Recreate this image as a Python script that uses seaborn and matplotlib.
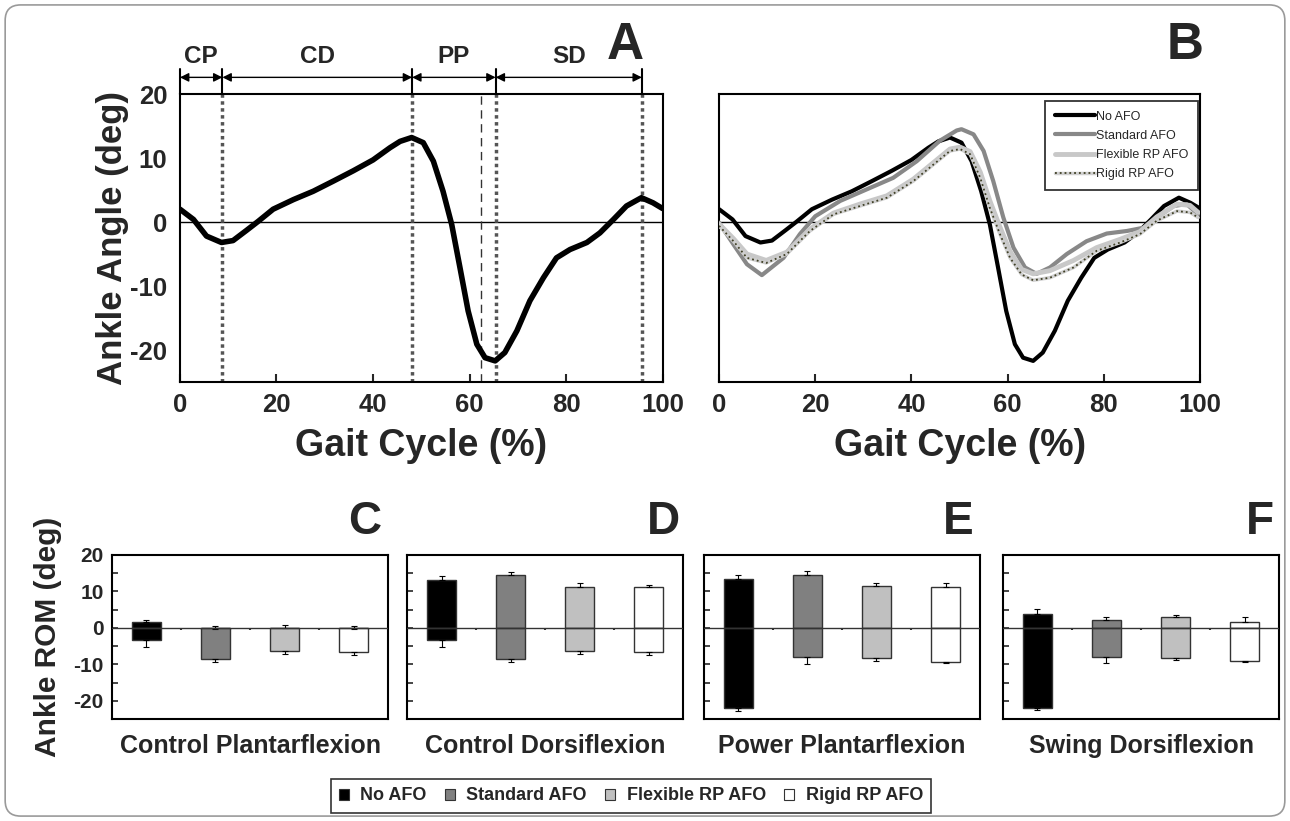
import numpy as np
import pandas as pd
import matplotlib
matplotlib.use("Agg")
import matplotlib.pyplot as plt
import seaborn as sns
from matplotlib.lines import Line2D
from matplotlib.patches import Patch, FancyBboxPatch

# --- Data: ankle angle over the gait cycle ---
no_afo_x = [0, 2.8, 5.5, 8.6, 11, 13.8, 16.2, 19.3, 23.5, 27.6, 31.8, 35.9, 40, 43.5,
            45.6, 48, 50.4, 52.5, 54.5, 56.3, 58, 59.7, 61.5, 63.2, 65.3, 67.3, 69.8,
            72.5, 75.3, 78, 80.8, 84.3, 87, 89.8, 92.5, 95.6, 98, 100]
no_afo_y = [2.0, 0.4, -2.2, -3.2, -2.9, -1.3, 0.1, 2.0, 3.5, 4.8, 6.4, 8.0, 9.7, 11.6,
            12.6, 13.2, 12.4, 9.5, 4.8, -0.4, -7.1, -13.9, -19.1, -21.2, -21.7, -20.4, -17.0,
            -12.3, -8.7, -5.6, -4.3, -3.2, -1.7, 0.4, 2.5, 3.8, 3.0, 2.1]

std_afo_x = [0, 3, 5.8, 8.9, 13.4, 16.8, 20, 25.2, 30.7, 36.2, 41.1, 45.9, 49.4, 50.4,
             52.9, 55, 57, 59.1, 61.2, 63.6, 66, 68.8, 72.3, 76.4, 80.6, 84.8, 88.2, 91,
             94.5, 97.2, 99.6]
std_afo_y = [-0.1, -3.5, -6.6, -8.3, -5.6, -1.9, 0.9, 3.3, 5.1, 6.9, 9.5, 12.7, 14.3, 14.5,
             13.7, 11.1, 6.4, 0.7, -4.0, -7.1, -8.1, -7.1, -5.0, -3.0, -1.8, -1.4, -0.9, 0.7,
             2.5, 2.8, 1.2]

rp_x = [0, 3, 5.8, 9.8, 14.1, 18.9, 23.8, 29.3, 34.9, 40.4, 44.6, 48, 50.1, 52.2, 54.3,
        56.3, 58.4, 60.5, 62.9, 65.3, 68.8, 73.7, 78.5, 83.4, 87.5, 91, 95.2, 97.9, 99.6]
flex_rp_y = [-0.3, -2.6, -5.0, -6.0, -4.7, -1.1, 1.4, 2.8, 4.1, 6.7, 9.3, 11.4, 11.7, 11.0, 7.8,
             3.3, -0.8, -4.6, -7.4, -8.1, -7.6, -6.0, -4.0, -2.7, -1.5, 0.8, 2.8, 2.6, 1.5]
rigid_rp_y = [-0.6, -3.0, -5.6, -6.4, -5.0, -1.4, 1.2, 2.5, 3.8, 6.4, 9.0, 11.1, 11.4, 10.6, 6.9,
              2.2, -1.9, -5.6, -8.2, -9.1, -8.7, -7.1, -4.5, -3.2, -1.9, 0.2, 1.7, 1.5, 0.7]

# Gait phase boundaries (% gait cycle) and labels
phase_bounds = [0, 8.8, 48.1, 65.4, 95.7]
phase_labels = ["CP", "CD", "PP", "SD"]
toe_off = 62.3

# --- Data: ankle ROM per phase (bar spans min..max, error bar outward) ---
conditions = ["No AFO", "Standard AFO", "Flexible RP AFO", "Rigid RP AFO"]
phases = ["Control Plantarflexion", "Control Dorsiflexion", "Power Plantarflexion", "Swing Dorsiflexion"]
rom_max = {
    "Control Plantarflexion": [1.6, -0.2, 0.1, -0.4],
    "Control Dorsiflexion": [13.1, 14.4, 11.3, 11.1],
    "Power Plantarflexion": [13.4, 14.6, 11.6, 11.3],
    "Swing Dorsiflexion": [3.9, 2.3, 3.1, 1.7],
}
rom_max_err = {
    "Control Plantarflexion": [2.2, 0.5, 0.8, 0.4],
    "Control Dorsiflexion": [14.3, 15.4, 12.2, 11.9],
    "Power Plantarflexion": [14.5, 15.6, 12.4, 12.3],
    "Swing Dorsiflexion": [5.2, 3.0, 3.5, 2.9],
}
rom_min = {
    "Control Plantarflexion": [-3.2, -8.5, -6.4, -6.7],
    "Control Dorsiflexion": [-3.3, -8.5, -6.4, -6.7],
    "Power Plantarflexion": [-22.0, -8.0, -8.3, -9.4],
    "Swing Dorsiflexion": [-21.9, -7.9, -8.2, -9.0],
}
rom_min_err = {
    "Control Plantarflexion": [-5.2, -9.4, -7.1, -7.3],
    "Control Dorsiflexion": [-5.2, -9.4, -7.1, -7.3],
    "Power Plantarflexion": [-22.8, -9.8, -9.0, -9.6],
    "Swing Dorsiflexion": [-22.6, -9.5, -8.9, -9.3],
}

bar_colors = ["#000000", "#808080", "#c0c0c0", "#ffffff"]

# --- Style ---
sns.set_style("ticks")
plt.rcParams["font.family"] = ["Liberation Sans", "DejaVu Sans"]
plt.rcParams["font.weight"] = "bold"
plt.rcParams["axes.unicode_minus"] = False

fig = plt.figure(figsize=(12.9, 8.21), dpi=100)

# outer rounded frame
fig.patches.append(FancyBboxPatch((0.004, 0.006), 0.992, 0.988,
                                  boxstyle="round,pad=0,rounding_size=0.012",
                                  mutation_aspect=1290 / 821, transform=fig.transFigure,
                                  facecolor="none", edgecolor="#9a9a9a", linewidth=1.2))


def style_curve_axes(ax):
    ax.set_xlim(0, 100)
    ax.set_ylim(-25, 20)
    ax.set_xticks(range(0, 101, 20))
    ax.set_yticks([-20, -10, 0, 10, 20])
    ax.tick_params(axis="x", direction="in", length=6, width=1.5, pad=8, labelsize=18.5)
    ax.tick_params(axis="y", length=0, pad=9, labelsize=18.5)
    for lab in ax.get_xticklabels() + ax.get_yticklabels():
        lab.set_fontweight("bold")
    for sp in ax.spines.values():
        sp.set_visible(True)
        sp.set_linewidth(1.5)
        sp.set_color("black")
    ax.axhline(0, color="black", lw=1, zorder=1)
    ax.set_xlabel("Gait Cycle (%)", fontsize=27, fontweight="bold", labelpad=8)


# --- Panel A: No AFO with phase markers ---
axA = fig.add_axes([0.1395, 0.5347, 0.3742, 0.3508])
style_curve_axes(axA)
for b in phase_bounds[1:]:
    axA.axvline(b, color="#555555", lw=2.5, ls=(0, (1, 1)), zorder=2)
axA.axvline(toe_off, color="#333333", lw=1, ls=(0, (6, 4)), zorder=2)
sns.lineplot(x=no_afo_x, y=no_afo_y, ax=axA, color="black", lw=4, zorder=3)
axA.set_ylabel("Ankle Angle (deg)", fontsize=25, fontweight="bold", labelpad=1)

# phase arrows above the panel
for b in phase_bounds:
    axA.plot([b, b], [20, 23.9], color="black", lw=1.5, clip_on=False)
for i, lab in enumerate(phase_labels):
    x0, x1 = phase_bounds[i], phase_bounds[i + 1]
    axA.annotate("", xy=(x1, 22.6), xytext=(x0, 22.6), annotation_clip=False,
                 arrowprops=dict(arrowstyle="<|-|>", color="black", lw=1,
                                 shrinkA=0, shrinkB=0, mutation_scale=13))
    axA.text((x0 + x1) / 2, 25.9, lab, ha="center", va="center",
             fontsize=17.5, fontweight="bold")

# --- Panel B: all conditions ---
axB = fig.add_axes([0.5574, 0.5347, 0.3729, 0.3508])
style_curve_axes(axB)
axB.set_yticklabels([])
sns.lineplot(x=no_afo_x, y=no_afo_y, ax=axB, color="black", lw=3, zorder=3)
sns.lineplot(x=std_afo_x, y=std_afo_y, ax=axB, color="#888888", lw=3, zorder=4)
sns.lineplot(x=rp_x, y=flex_rp_y, ax=axB, color="#c8c8c8", lw=3.5, zorder=4)
sns.lineplot(x=rp_x, y=rigid_rp_y, ax=axB, color="#d0d0d0", lw=2.5, zorder=5)
sns.lineplot(x=rp_x, y=rigid_rp_y, ax=axB, color="#3f3f25", lw=1.3, ls=":", zorder=6)

leg_handles = [
    Line2D([], [], color="black", lw=3),
    Line2D([], [], color="#888888", lw=3),
    Line2D([], [], color="#c8c8c8", lw=3.5),
    (Line2D([], [], color="#d0d0d0", lw=2.5), Line2D([], [], color="#3f3f25", lw=1.3, ls=":")),
]
legB = axB.legend(leg_handles, conditions, loc="upper right", bbox_to_anchor=(0.995, 0.975),
                  fontsize=9, frameon=True, fancybox=False, handlelength=3.2,
                  handletextpad=0.1, borderpad=0.75, labelspacing=0.58, borderaxespad=0)
legB.get_frame().set_edgecolor("black")
legB.get_frame().set_linewidth(1.3)
for t in legB.get_texts():
    t.set_fontweight("normal")

# --- Panels C-F: ROM bars ---
bar_lefts = [0.0868, 0.3155, 0.5457, 0.7775]
for i, phase in enumerate(phases):
    ax = fig.add_axes([bar_lefts[i], 0.1242, 0.214, 0.1998])
    df = pd.DataFrame({
        "condition": conditions,
        "top": rom_max[phase],
        "bottom": rom_min[phase],
        "top_err": rom_max_err[phase],
        "bottom_err": rom_min_err[phase],
    })
    for col in ["top", "bottom"]:
        sns.barplot(data=df, x="condition", y=col, hue="condition", order=conditions,
                    hue_order=conditions, palette=bar_colors, width=0.42,
                    edgecolor="#333333", linewidth=1, legend=False, ax=ax, zorder=2)
    xs = np.arange(len(conditions))
    top = df["top"].to_numpy()
    bot = df["bottom"].to_numpy()
    ax.errorbar(xs, top, yerr=[np.zeros(4), df["top_err"].to_numpy() - top], fmt="none",
                ecolor="black", elinewidth=0.8, capsize=2.5, capthick=0.8, zorder=3)
    ax.errorbar(xs, bot, yerr=[bot - df["bottom_err"].to_numpy(), np.zeros(4)], fmt="none",
                ecolor="black", elinewidth=0.8, capsize=2.5, capthick=0.8, zorder=3)
    ax.axhline(0, color="#333333", lw=1, zorder=4)
    ax.vlines([0.5, 1.5, 2.5], -0.7, 0, color="#333333", lw=1.5, zorder=4)

    ax.set_xlim(-0.5, 3.5)
    ax.set_ylim(-25, 20)
    ax.set_xticks([])
    ax.set_yticks([-20, -10, 0, 10, 20])
    ax.set_yticks([-15, -5, 5, 15], minor=True)
    ax.tick_params(axis="y", which="both", direction="in", length=4, width=1.2,
                   labelsize=15, pad=6)
    if i == 0:
        for lab in ax.get_yticklabels():
            lab.set_fontweight("bold")
        ax.set_ylabel("Ankle ROM (deg)", fontsize=21.5, fontweight="bold", labelpad=8)
    else:
        ax.set_yticklabels([])
        ax.set_ylabel("")
    ax.set_xlabel(phase, fontsize=18, fontweight="bold", labelpad=11)
    for sp in ax.spines.values():
        sp.set_visible(True)
        sp.set_linewidth(1.5)
        sp.set_color("black")

# --- Panel letters ---
for lab, x, y, fs in [("A", 0.4845, 0.944, 37), ("B", 0.9186, 0.944, 37),
                      ("C", 0.283, 0.364, 33), ("D", 0.514, 0.364, 33),
                      ("E", 0.743, 0.364, 33), ("F", 0.977, 0.364, 33)]:
    fig.text(x, y, lab, ha="center", va="center", fontsize=fs, fontweight="bold")

# --- Bottom legend for bar panels ---
patch_handles = [Patch(facecolor=c, edgecolor="#333333", linewidth=0.8) for c in bar_colors]
leg = fig.legend(patch_handles, conditions, loc="center", bbox_to_anchor=(0.489, 0.0305),
                 ncol=4, fontsize=13, frameon=True, fancybox=False, handlelength=0.55,
                 handleheight=0.55, handletextpad=0.65, columnspacing=1.0, borderpad=0.45)
leg.get_frame().set_edgecolor("black")
leg.get_frame().set_linewidth(1.2)
for t in leg.get_texts():
    t.set_fontweight("bold")

fig.savefig("out.png", dpi=100)
